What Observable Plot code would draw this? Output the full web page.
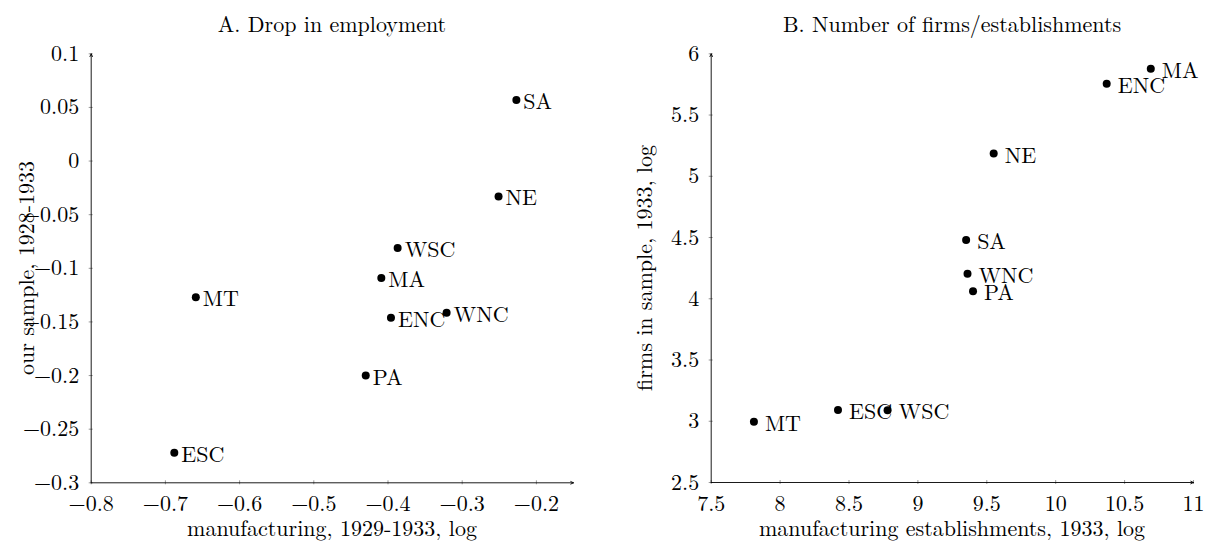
<!DOCTYPE html>
<html>
<head>
<meta charset="utf-8">
<script src="https://cdn.jsdelivr.net/npm/d3@7"></script>
<script src="https://cdn.jsdelivr.net/npm/@observablehq/plot@0.6"></script>
<style>
  body { margin: 0; background: #fff; }
  #wrap { position: relative; width: 1213px; height: 541px; font-family: "Latin Modern Roman", "Liberation Serif", serif; color: #000; overflow: hidden; }
  .lbl { position: absolute; font-size: 22px; white-space: nowrap; line-height: 1; }
  .ctr { transform: translate(-50%, -50%); }
  .rot { transform: translate(-50%, -50%) rotate(-90deg); }
  #wrap svg { position: absolute; top: 0; }
</style>
</head>
<body>
<div id="wrap"></div>
<script>
// Panel A: Drop in employment
const regionsA = ["SA", "NE", "WSC", "MA", "MT", "ENC", "WNC", "PA", "ESC"];
const manufA   = [-0.227, -0.251, -0.387, -0.409, -0.659, -0.396, -0.321, -0.430, -0.688];
const sampleA  = [0.057, -0.033, -0.081, -0.109, -0.127, -0.146, -0.1415, -0.200, -0.272];
const xDomainA = [-0.8, -0.15];
const yDomainA = [-0.3, 0.1];
const xTicksA  = [-0.8, -0.7, -0.6, -0.5, -0.4, -0.3, -0.2];
const yTicksA  = [-0.3, -0.25, -0.2, -0.15, -0.1, -0.05, 0, 0.05, 0.1];
const titleA = "A. Drop in employment";
const xLabelA = "manufacturing, 1929-1933, log";
const yLabelA = "our sample, 1928-1933";

// Panel B: Number of firms/establishments
const regionsB = ["MA", "ENC", "NE", "SA", "WNC", "PA", "ESC", "WSC", "MT"];
const estabB   = [10.69, 10.37, 9.55, 9.35, 9.36, 9.40, 8.42, 8.78, 7.81];
const firmsB   = [5.878, 5.755, 5.186, 4.48, 4.204, 4.062, 3.091, 3.09, 2.996];
const xDomainB = [7.5, 11];
const yDomainB = [2.5, 6];
const xTicksB  = [7.5, 8, 8.5, 9, 9.5, 10, 10.5, 11];
const yTicksB  = [2.5, 3, 3.5, 4, 4.5, 5, 5.5, 6];
const titleB = "B. Number of firms/establishments";
const xLabelB = "manufacturing establishments, 1933, log";
const yLabelB = "firms in sample, 1933, log";

const dataA = regionsA.map((r, i) => ({region: r, x: manufA[i], y: sampleA[i]}));
const dataB = regionsB.map((r, i) => ({region: r, x: estabB[i], y: firmsB[i]}));
const fmt = d3.format("~g");
const FONT = "'Latin Modern Roman', 'Liberation Serif', serif";

function panel({data, xDomain, yDomain, xTicks, yTicks, width, margins, labelDx}) {
  return Plot.plot({
    width, height: 541,
    marginLeft: margins[0], marginRight: margins[1], marginTop: margins[2], marginBottom: margins[3],
    x: {domain: xDomain},
    y: {domain: yDomain},
    style: {fontFamily: FONT, fontSize: "22px", color: "#000", background: "transparent", overflow: "visible"},
    marks: [
      Plot.axisX({ticks: xTicks, tickSize: 0, tickPadding: 13, tickFormat: fmt, label: null, fontFamily: FONT, fontSize: 22}),
      Plot.axisY({ticks: yTicks, tickSize: 0, tickPadding: 12, tickFormat: fmt, label: null, fontFamily: FONT, fontSize: 22}),
      Plot.ruleX(xTicks, {x: d => d, y1: yDomain[0], y2: yDomain[0], insetTop: -2, insetBottom: -2, stroke: "#555", strokeWidth: 0.6}),
      Plot.ruleY(yTicks, {y: d => d, x1: xDomain[0], x2: xDomain[0], insetLeft: -2, insetRight: -2, stroke: "#555", strokeWidth: 0.6}),
      Plot.arrow([0], {x1: xDomain[0], y1: yDomain[0], x2: xDomain[1], y2: yDomain[0], stroke: "#000", strokeWidth: 0.9, headLength: 5, headAngle: 50}),
      Plot.arrow([0], {x1: xDomain[0], y1: yDomain[0], x2: xDomain[0], y2: yDomain[1], stroke: "#000", strokeWidth: 0.9, headLength: 5, headAngle: 50}),
      Plot.dot(data, {x: "x", y: "y", r: 4, fill: "#000", stroke: "none"}),
      Plot.text(data, {x: "x", y: "y", text: "region", textAnchor: "start", dx: labelDx, dy: 2, fill: "#000", fontSize: 22, fontFamily: FONT})
    ]
  });
}

const wrap = document.getElementById("wrap");
const svgA = panel({data: dataA, xDomain: xDomainA, yDomain: yDomainA, xTicks: xTicksA, yTicks: yTicksA,
  width: 606, margins: [90.7, 33, 53.3, 58.7], labelDx: 7});
svgA.style.left = "0px";
const svgB = panel({data: dataB, xDomain: xDomainB, yDomain: yDomainB, xTicks: xTicksB, yTicks: yTicksB,
  width: 607, margins: [104.7, 20, 53.3, 59], labelDx: 11});
svgB.style.left = "606px";
wrap.appendChild(svgA);
wrap.appendChild(svgB);

function addLabel(text, left, top, cls) {
  const d = document.createElement("div");
  d.className = "lbl " + cls;
  d.style.left = left + "px";
  d.style.top = top + "px";
  d.textContent = text;
  wrap.appendChild(d);
}
addLabel(titleA, 332, 23, "ctr");
addLabel(titleB, 952, 23, "ctr");
addLabel(xLabelA, 332, 527, "ctr");
addLabel(xLabelB, 952, 527, "ctr");
addLabel(yLabelA, 25.3, 268, "rot");
addLabel(yLabelB, 643, 268, "rot");
</script>
</body>
</html>
